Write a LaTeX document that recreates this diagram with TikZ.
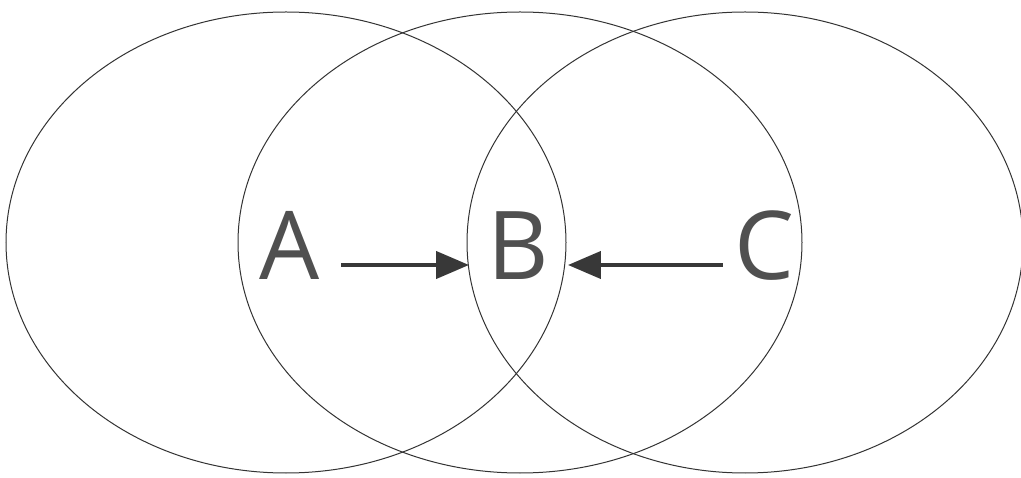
\documentclass[tikz,border=0pt]{standalone}
\usepackage{fontspec}
\setmainfont{Open Sans}
\usetikzlibrary{arrows.meta,calc}
\definecolor{ringgray}{HTML}{333333}
\definecolor{txtgray}{HTML}{505050}
\definecolor{arrgray}{HTML}{383838}
\tikzset{
  ring/.style={draw=ringgray, line width=1pt},
  letter/.style={text=txtgray, inner sep=0pt, font=\fontsize{95}{110}\selectfont, anchor=base},
  arr/.style={draw=arrgray, line width=4.2pt, -{Triangle[length=33pt,width=27pt]}}
}
\begin{document}
\begin{tikzpicture}[x=1pt,y=-1pt]
\useasboundingbox (0,0) rectangle (1021,478);
\fill[white] (0,0) rectangle (1021,478);
\draw[ring] (286pt,-242.5pt) ellipse [x radius=280pt, y radius=230.5pt];
\draw[ring] (520pt,-242.5pt) ellipse [x radius=282pt, y radius=230.5pt];
\draw[ring] (745pt,-242.5pt) ellipse [x radius=278pt, y radius=230.5pt];
\node[letter] (A) at (290,280) {A};
\node[letter] (B) at (518,280) {B};
\node[letter] (C) at (764,280) {C};
\coordinate (a1) at ($(A.east)+(21,0)$);
\coordinate (b1) at ($(B.west)+(-18,0)$);
\coordinate (b2) at ($(B.east)+(19,0)$);
\coordinate (c1) at ($(C.west)+(-11,0)$);
\draw[arr] (a1 |- 0,265) -- (b1 |- 0,265);
\draw[arr] (c1 |- 0,265) -- (b2 |- 0,265);
\end{tikzpicture}
\end{document}
